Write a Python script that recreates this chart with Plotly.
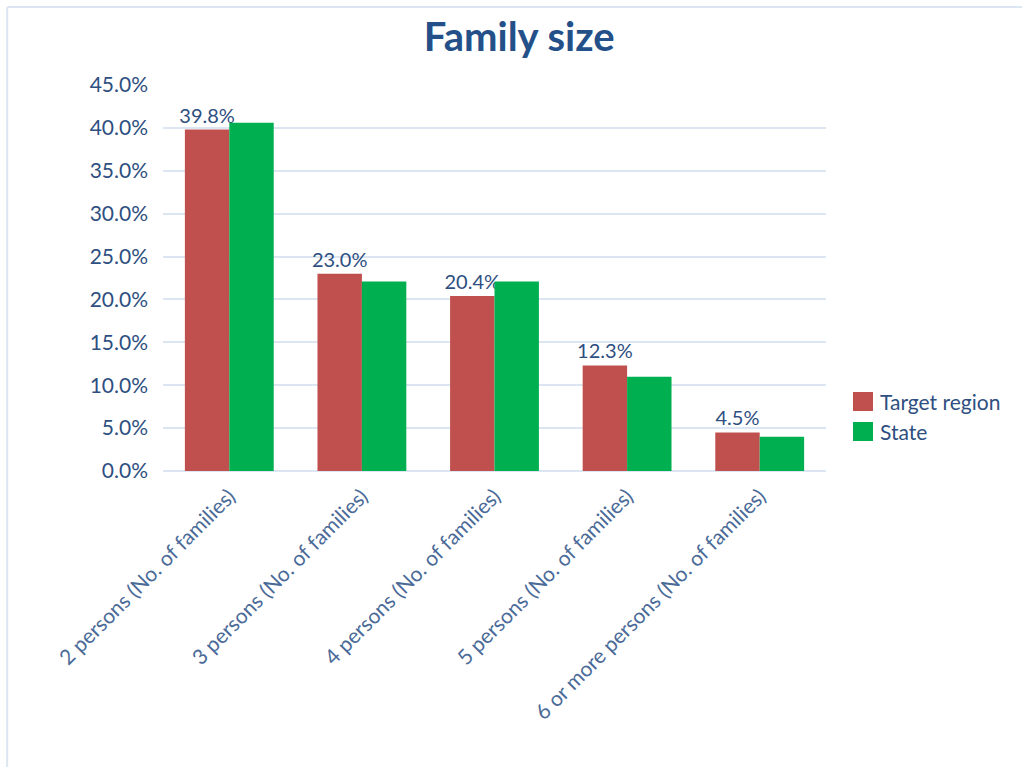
import plotly.graph_objects as go

categories = [
    "2 persons (No. of families)",
    "3 persons (No. of families)",
    "4 persons (No. of families)",
    "5 persons (No. of families)",
    "6 or more persons (No. of families)",
]
target_region = [39.8, 23.0, 20.4, 12.3, 4.5]
state = [40.6, 22.1, 22.1, 11.0, 4.0]
series_names = ["Target region", "State"]
series_colors = ["#C0504D", "#00B050"]
y_ticks = [0, 5, 10, 15, 20, 25, 30, 35, 40, 45]

text_color = "#2E4F7F"
font_family = "Lato, 'Open Sans', sans-serif"

fig = go.Figure()
fig.add_trace(go.Bar(
    name=series_names[0], x=categories, y=target_region,
    marker=dict(color=series_colors[0], line=dict(width=0)),
    text=[f"{v:.1f}%" for v in target_region],
    textposition="outside", cliponaxis=False, constraintext="none",
    textfont=dict(color=text_color, size=20, family=font_family),
    showlegend=False,
))
fig.add_trace(go.Bar(
    name=series_names[1], x=categories, y=state,
    marker=dict(color=series_colors[1], line=dict(width=0)),
    showlegend=False,
))

# Legend drawn as square swatches with labels to the right of the plot
shapes = [
    dict(type="line", xref="paper", yref="paper",
         x0=-0.235, x1=1.3, y0=1.202, y1=1.202,
         line=dict(color="#DCE6F2", width=2)),
    dict(type="line", xref="paper", yref="paper",
         x0=-0.235, x1=-0.235, y0=1.202, y1=-0.8,
         line=dict(color="#DCE6F2", width=2)),
]
annotations = []
legend_rows = [(0.1554, 0.2047), (0.0777, 0.1269)]
for name, color, (y0, y1) in zip(series_names, series_colors, legend_rows):
    shapes.append(dict(type="rect", xref="paper", yref="paper",
                       x0=1.0407, x1=1.0709, y0=y0, y1=y1,
                       fillcolor=color, line=dict(width=0)))
    annotations.append(dict(text=name, xref="paper", yref="paper",
                            x=1.0784, y=(y0 + y1) / 2, xanchor="left",
                            yanchor="middle", showarrow=False,
                            font=dict(size=21, color=text_color,
                                      family=font_family)))

fig.update_layout(
    width=1022, height=767,
    paper_bgcolor="white", plot_bgcolor="white",
    margin=dict(l=163, r=196, t=85, b=296),
    barmode="group", bargap=0.33, bargroupgap=0,
    title=dict(text="<b>Family size</b>", x=0.508, xanchor="center",
               y=0.952, yanchor="middle",
               font=dict(size=40, color="#24508A", family=font_family)),
    font=dict(family=font_family, color=text_color),
    showlegend=False,
    shapes=shapes,
    annotations=annotations,
)
fig.update_yaxes(
    range=[0, 45], tickvals=y_ticks,
    ticktext=[f"{t:.1f}%" for t in y_ticks],
    showgrid=True, gridcolor="#DCE6F2", gridwidth=1.5,
    zeroline=True, zerolinecolor="#DCE6F2", zerolinewidth=1.5,
    tickfont=dict(size=21, color=text_color), ticks="", ticklabelstandoff=14,
)
fig.update_xaxes(
    tickangle=-45, tickfont=dict(size=21, color="#4A6A98"),
    showline=False, ticks="", ticklabelstandoff=8,
)

fig.write_html("out.html")
